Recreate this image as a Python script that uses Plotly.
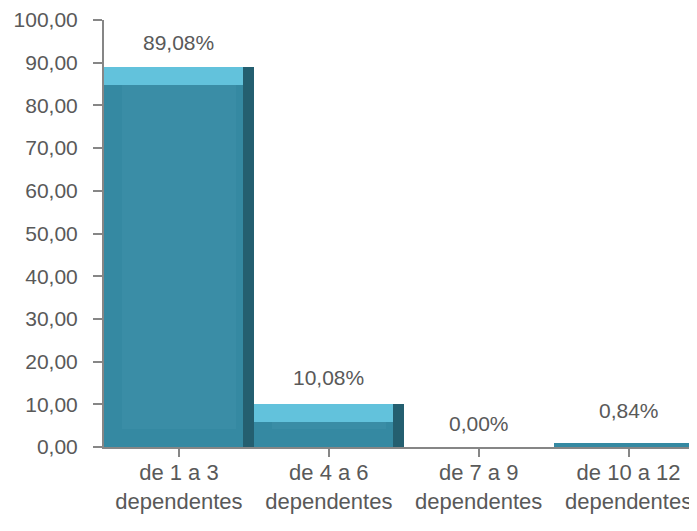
import plotly.graph_objects as go

categories = ["de 1 a 3<br>dependentes", "de 4 a 6<br>dependentes",
              "de 7 a 9<br>dependentes", "de 10 a 12<br>dependentes"]
values = [89.08, 10.08, 0.00, 0.84]
labels = ["89,08%", "10,08%", "0,00%", "0,84%"]
y_ticks = [0, 10, 20, 30, 40, 50, 60, 70, 80, 90, 100]

# styling constants
FONT = dict(family="Liberation Sans, Arial, sans-serif", size=21, color="#595959")
XFONT = dict(family="Liberation Sans, Arial, sans-serif", size=22, color="#595959")
BEV_Y = 4.2      # bevel depth in y units
BEV_X = 0.12     # bevel depth in category units
label_yshift = [24, 26, 24, 33]

x = list(range(len(categories)))
fig = go.Figure()

# base bar (edge tone)
fig.add_trace(go.Bar(x=x, y=values, width=1.0, marker=dict(color="#3589A2", line=dict(width=0)),
                     hoverinfo="skip", showlegend=False))

big = [v > 2 * BEV_Y for v in values]
# right dark edge
fig.add_trace(go.Bar(x=x, y=[v if b else 0 for v, b in zip(values, big)], width=BEV_X * 0.6,
                     offset=0.5 - BEV_X * 0.6,
                     marker=dict(color="#245F70", line=dict(width=0)), hoverinfo="skip", showlegend=False))
# top highlight
fig.add_trace(go.Bar(x=x, y=[BEV_Y if b else 0 for b in big],
                     base=[v - BEV_Y for v in values], width=1.0 - BEV_X * 0.6, offset=-0.5,
                     marker=dict(color="#62C2DC", line=dict(width=0)), hoverinfo="skip", showlegend=False))
# inner face
fig.add_trace(go.Bar(x=x, y=[(v - 2 * BEV_Y) if b else 0 for v, b in zip(values, big)],
                     base=[BEV_Y] * len(values), width=1.0 - 2 * BEV_X,
                     marker=dict(color="#3A8DA6", line=dict(width=0)), hoverinfo="skip", showlegend=False))

for xi, v, t, s in zip(x, values, labels, label_yshift):
    fig.add_annotation(x=xi, y=v, text=t, showarrow=False, yshift=s, font=FONT)

fig.update_layout(
    width=697, height=531,
    margin=dict(l=96, r=0, t=12, b=92),
    paper_bgcolor="white", plot_bgcolor="white",
    barmode="overlay", bargap=0,
    separators=",.",
    font=FONT,
)
fig.update_xaxes(
    range=[-0.5, 3.51], tickmode="array", tickvals=x, ticktext=categories,
    showline=True, linecolor="#868686", linewidth=2,
    ticks="outside", ticklen=8, tickcolor="#868686", tickwidth=2,
    ticklabelstandoff=-3,
    tickson="boundaries", showgrid=False, zeroline=False, tickfont=XFONT,
    automargin=False,
)
fig.update_yaxes(
    range=[0, 100], tickvals=y_ticks, tickformat=".2f",
    showline=True, linecolor="#868686", linewidth=2,
    ticks="outside", ticklen=9, tickcolor="#868686", tickwidth=2,
    ticklabelstandoff=11,
    showgrid=False, zeroline=False, tickfont=FONT, automargin=False,
)

fig.write_html("out.html")
